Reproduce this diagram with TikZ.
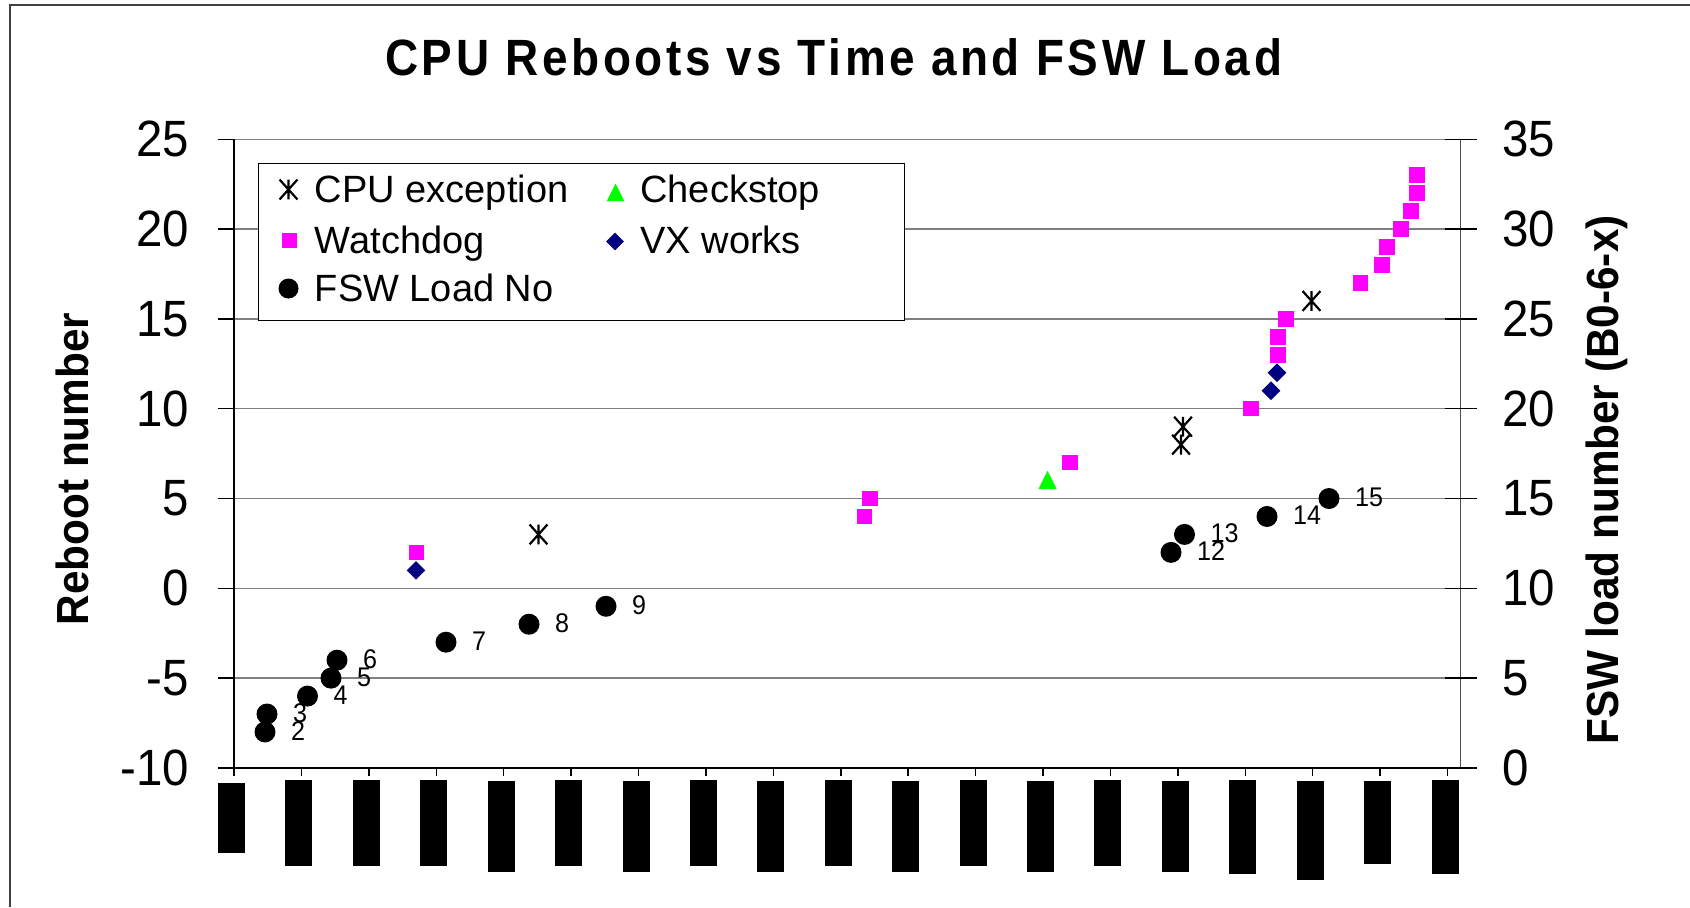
\documentclass[tikz,border=0pt]{standalone}
\usepackage{fontspec}
\setmainfont{Liberation Sans}
\newfontfamily\numfont[FakeStretch=0.93]{Liberation Sans}
\newfontfamily\cfont[FakeStretch=0.94]{Liberation Sans}
\newfontfamily\tfont[FakeStretch=0.9, LetterSpace=7]{Liberation Sans}
\usetikzlibrary{shapes.geometric}
\definecolor{wdmag}{RGB}{255,0,255}
\definecolor{vxnavy}{RGB}{0,0,128}
\definecolor{ckgreen}{RGB}{0,255,0}
\newcommand\yv[1]{588.3-17.96*(#1)}
\newcommand\cpumark[3]{%
  \node[astk] (#1) at ({#2},{#3}) {};
  \draw[astline] (#1.north) -- (#1.south) (#1.north west) -- (#1.south east) (#1.north east) -- (#1.south west);
}
\begin{document}
\begin{tikzpicture}[x=0.5pt,y=-0.5pt,
  gridl/.style={draw=black!50, line width=0.75pt},
  axisl/.style={draw=black, line width=0.9pt},
  raxisl/.style={draw=black!70, line width=0.9pt},
  tickl/.style={draw=black, line width=0.75pt},
  ticklab/.style={font=\numfont\fontsize{25.5}{26}\selectfont, inner sep=0pt},
  ptlab/.style={font=\numfont\fontsize{13.5}{14}\selectfont, inner sep=0pt, anchor=west},
  legtext/.style={font=\fontsize{19}{20}\selectfont, inner sep=0pt, anchor=base west},
  axtitle/.style={font=\cfont\bfseries\fontsize{22.5}{24}\selectfont, inner sep=0pt, rotate=90, anchor=base},
  dot/.style={circle, fill=black, inner sep=0pt, minimum size=10.5pt},
  wdog/.style={rectangle, fill=wdmag, inner sep=0pt, minimum size=7.75pt},
  vxw/.style={diamond, fill=vxnavy, inner sep=0pt, minimum width=9.5pt, minimum height=9.5pt},
  chk/.style={isosceles triangle, shape border rotate=90, isosceles triangle stretches, fill=ckgreen, inner sep=0pt, minimum width=9.2pt, minimum height=9.2pt, anchor=lower side},
  astk/.style={rectangle, inner sep=0pt, minimum width=8.5pt, minimum height=9.5pt},
  astline/.style={draw=black, line width=1.1pt},
  barfill/.style={fill=black}
]
\useasboundingbox (0,0) rectangle (1690,907);
\fill[white] (0,0) rectangle (1690,907);
% outer frame
\draw[draw=black!75, line width=1pt] (10,907) -- (10,5) -- (1690,5);
% title
\node[font=\tfont\bfseries\fontsize{25.5}{28}\selectfont, inner sep=0pt, anchor=base] (title) at (833.7,75) {CPU Reboots vs Time and FSW Load};
% grid lines
\foreach \v in {-5,0,...,25} {
  \draw[gridl] (234,{\yv{\v}}) -- (1460.5,{\yv{\v}});
}
% axes
\draw[axisl] (234,{\yv{25}}) -- (234,{\yv{-10}});
\draw[raxisl] (1460.5,{\yv{25}}) -- (1460.5,{\yv{-10}});
\draw[axisl] (218,{\yv{-10}}) -- (1477,{\yv{-10}});
\foreach \v in {-10,-5,...,25} {
  \draw[tickl] (218,{\yv{\v}}) -- (234,{\yv{\v}});
  \draw[tickl] (1445,{\yv{\v}}) -- (1477,{\yv{\v}});
  \node[ticklab, anchor=east] (ll\v) at (189.5,{\yv{\v}}) {\v};
}
\foreach \r in {0,5,...,35} {
  \node[ticklab, anchor=west] (rl\r) at (1502,{\yv{\r-10}}) {\r};
}
\foreach \k in {0,...,18} {
  \draw[tickl] ({234+67.42*\k},768) -- ++(0,8);
}
% black label bars
\foreach \k/\t/\b in {0/783/853, 1/780/866, 2/780/866, 3/780/866, 4/781/872, 5/780/866, 6/781/872, 7/780/866, 8/781/872, 9/780/866, 10/781/872, 11/780/866, 12/781/872, 13/780/866, 14/781/872, 15/780/874, 16/781/880, 17/781/864, 18/780/874} {
  \fill[barfill] ({234+67.42*\k-16},\t) rectangle ({234+67.42*\k+11},\b);
}
% axis titles
\node[axtitle] (ytitle) at (88,469) {Reboot number};
\node[axtitle] (y2title) at (1618.5,479.7) {FSW load number (B0-6-x)};
% legend
\node[draw=black, line width=0.7pt, fill=white, anchor=north west, minimum width=323pt, minimum height=78.5pt, inner sep=0pt] (legend) at (257.5,162.5) {};
\cpumark{lga}{288.5}{189.5}
\node[legtext] (lgat) at (314.5,202.7) {CPU exception};
\node[wdog, minimum size=7.5pt] (lgb) at (289,240.5) {};
\node[legtext] (lgbt) at (314.5,253.3) {Watchdog};
\node[dot, minimum size=10pt] (lgc) at (288.5,288.5) {};
\node[legtext] (lgct) at (314.5,301.7) {FSW Load No};
\node[chk, minimum width=8.8pt, minimum height=8.8pt] (lgd) at (615.5,201.5) {};
\node[legtext] (lgdt) at (640,202.7) {Checkstop};
\node[vxw, minimum width=9pt, minimum height=9pt] (lge) at (615,241.5) {};
\node[legtext] (lget) at (640,253.3) {VX works};
% FSW load points
\foreach \n/\x/\v in {2/265/-8, 3/267/-7, 4/307.5/-6, 5/331/-5, 6/337/-4, 7/446/-3, 8/529/-2, 9/606/-1, 12/1171/2, 13/1184.5/3, 14/1267/4, 15/1329/5} {
  \node[dot] (c\n) at (\x,{\yv{\v}}) {};
  \node[ptlab] (l\n) at ([xshift=12.9pt, yshift=0.5pt]c\n.center) {\n};
}
% watchdog points
\foreach \i/\x/\v in {1/416.5/2, 2/864.5/4, 3/870/5, 4/1070/7, 5/1251/10, 6/1278/13, 7/1278/14, 8/1286/15, 9/1360.3/17, 10/1381.8/18, 11/1387/19, 12/1401/20, 13/1411/21, 14/1416.8/22, 15/1416.8/23} {
  \node[wdog] (w\i) at (\x,{\yv{\v}}) {};
}
% VX works points
\foreach \i/\x/\v in {1/416/1, 2/1271/11, 3/1277/12} {
  \node[vxw] (d\i) at (\x,{\yv{\v}}) {};
}
% checkstop
\node[chk] (t1) at (1047.5,{\yv{6}+9}) {};
% CPU exceptions
\cpumark{a1}{538.5}{\yv{3}}
\cpumark{a2}{1181}{\yv{8}}
\cpumark{a3}{1183}{\yv{9}}
\cpumark{a4}{1311.5}{\yv{16}}
\end{tikzpicture}
\end{document}
